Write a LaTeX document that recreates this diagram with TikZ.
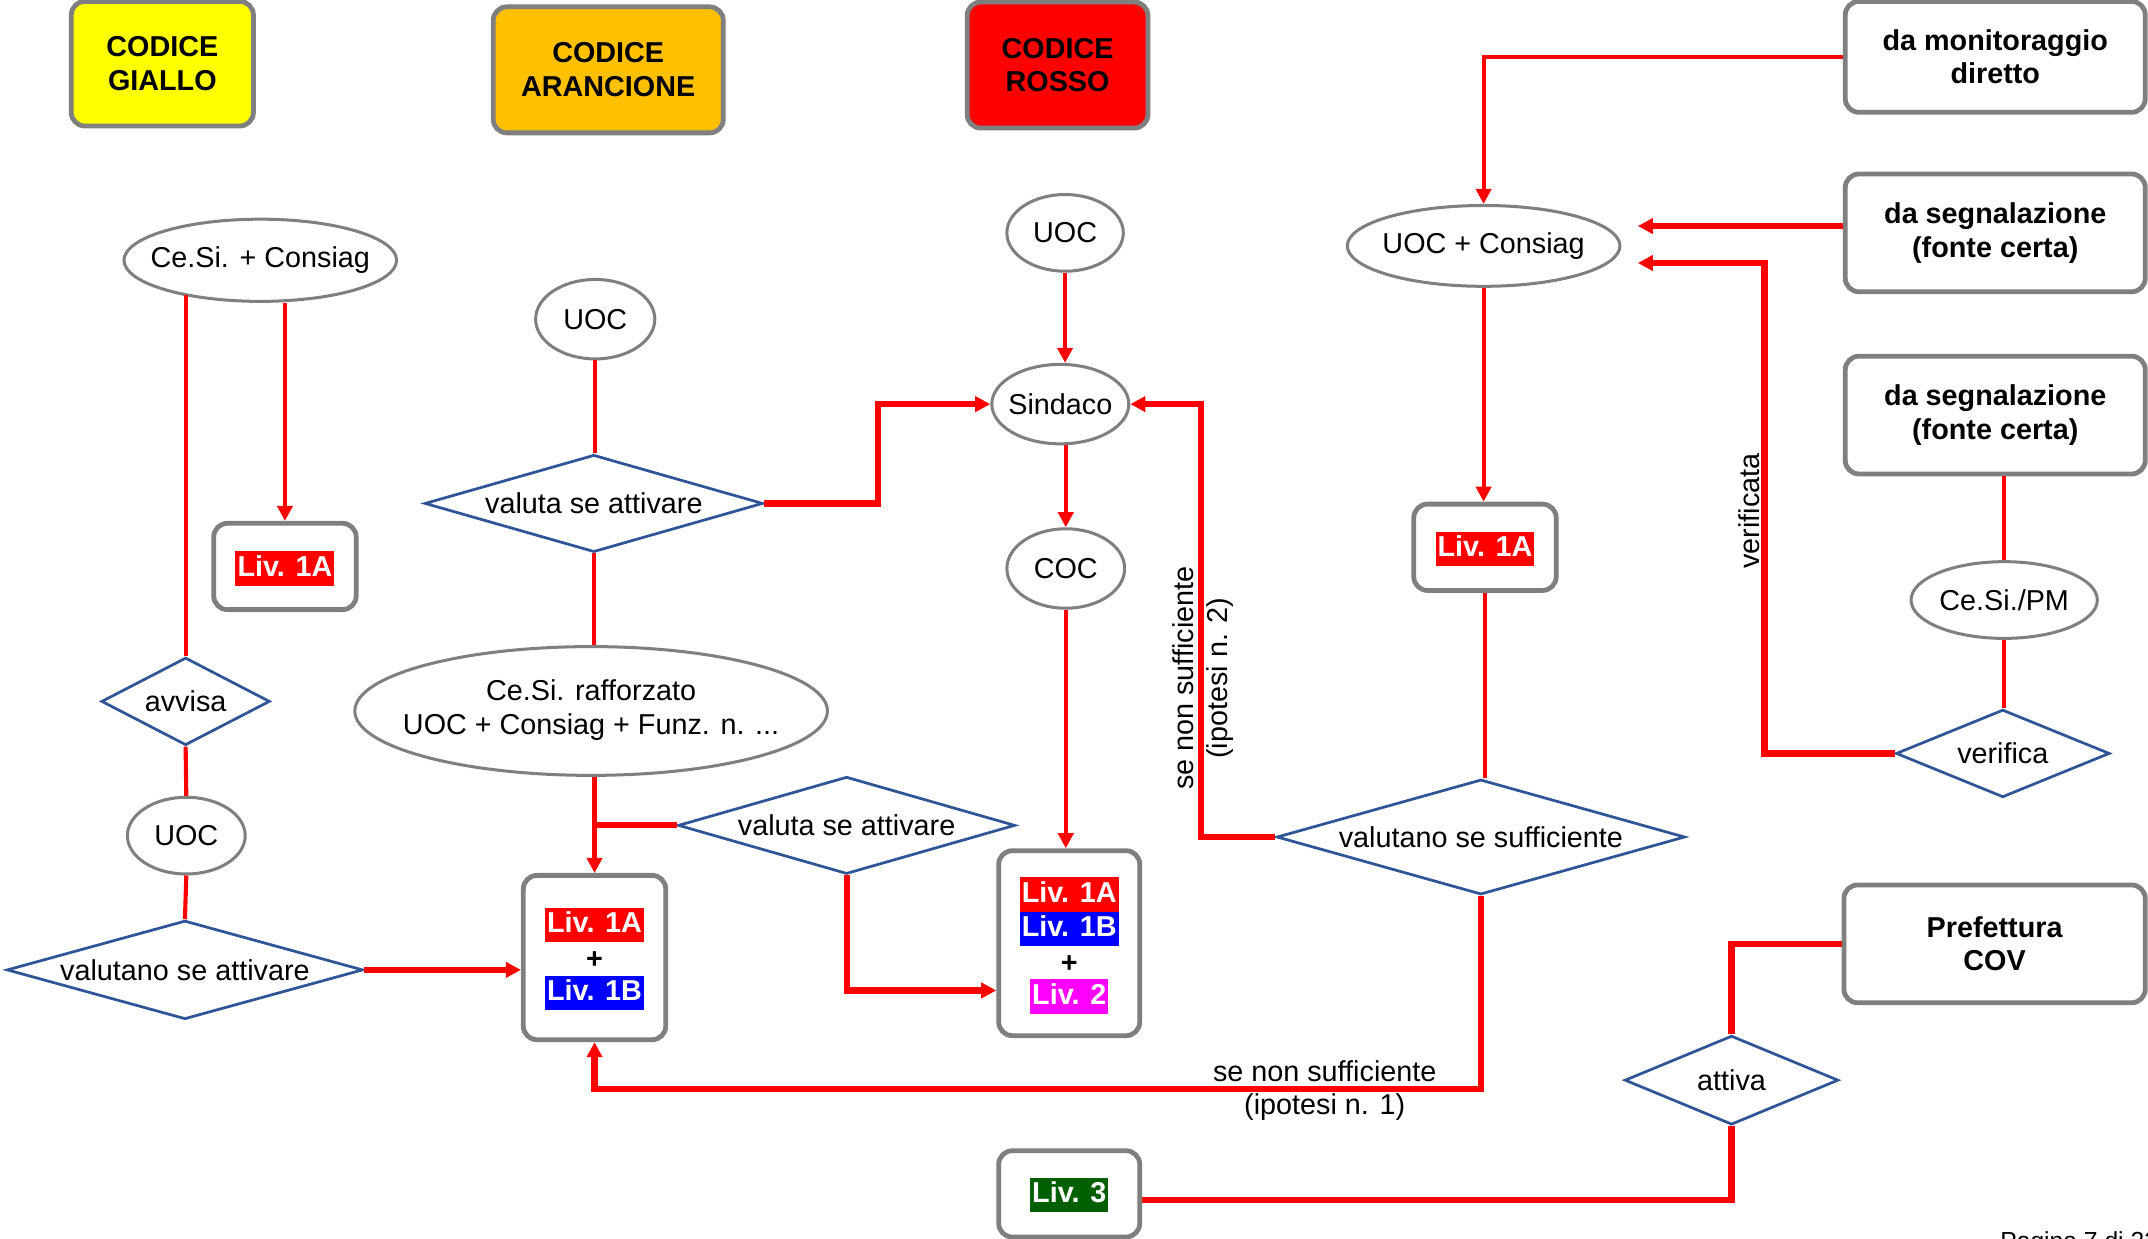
\documentclass[tikz,border=0pt]{standalone}
\usepackage{fontspec}
\setmainfont{Liberation Sans}
\usetikzlibrary{shapes.geometric,arrows.meta,calc}
\definecolor{bordergray}{HTML}{7F7F7F}
\definecolor{diablue}{HTML}{2F5597}
\definecolor{lred}{HTML}{FF0000}
\definecolor{lblue}{HTML}{0000FF}
\definecolor{lmag}{HTML}{FF00FF}
\definecolor{lgreen}{HTML}{006000}
\definecolor{hyellow}{HTML}{FFFF00}
\definecolor{horange}{HTML}{FFC000}
\newcommand{\zw}[1]{\makebox[0pt]{#1}}
\begin{document}
\begin{tikzpicture}[x=1pt,y=-1pt,
  every node/.style={font=\fontsize{21}{24.5}\selectfont, inner sep=0pt},
  hdr/.style={draw=bordergray, line width=3.5pt, rounded corners=10pt, align=center, font=\bfseries\fontsize{21}{24.5}\selectfont},
  box/.style={draw=bordergray, line width=3.5pt, rounded corners=10pt, fill=white, align=center},
  srcbox/.style={box, font=\bfseries\fontsize{21}{24.5}\selectfont},
  ell/.style={ellipse, draw=bordergray, line width=2.2pt, fill=white},
  dia/.style={diamond, draw=diablue, line width=2pt, fill=white},
  liv/.style={font=\bfseries\fontsize{21}{24.5}\selectfont, text=white, inner xsep=1.5pt, inner ysep=2.5pt, text height=15.5pt, text depth=4.5pt},
  plus/.style={font=\bfseries\fontsize{21}{24.5}\selectfont},
  con/.style={draw=lred, line width=3pt},
  arr/.style={con, -{Triangle[length=11pt,width=11pt]}},
  tcon/.style={draw=lred, line width=4.5pt},
  tarr/.style={tcon, -{Triangle[length=11pt,width=11pt]}},
]
\useasboundingbox (0,0) rectangle (1568,904);

% headers
\node[hdr, fill=hyellow, minimum width=133pt, minimum height=91pt] (giallo) at (118.5,46.5) {CODICE\\GIALLO};
\node[hdr, fill=horange, minimum width=168pt, minimum height=92pt] (arancione) at (444,51) {CODICE\\ARANCIONE};
\node[hdr, fill=lred, minimum width=132pt, minimum height=92pt] (rosso) at (772,47.5) {CODICE\\ROSSO};

% source boxes
\node[srcbox, minimum width=219pt, minimum height=81pt] (mon) at (1456.5,41.5) {da monitoraggio\\diretto};
\node[srcbox, minimum width=219pt, minimum height=86pt] (seg1) at (1456.5,170) {da segnalazione\\(fonte certa)};
\node[srcbox, minimum width=219pt, minimum height=86pt] (seg2) at (1456.5,303) {da segnalazione\\(fonte certa)};
\node[srcbox, minimum width=220pt, minimum height=86pt] (pref) at (1456,689) {Prefettura\\COV};

% ellipses
\node[ell, minimum width=199pt, minimum height=60pt] (cesi) at (190,190) {\zw{Ce.Si. + Consiag}};
\node[ell, minimum width=87pt, minimum height=58pt] (uocA) at (434.5,233) {\zw{UOC}};
\node[ell, minimum width=85pt, minimum height=56pt] (uocR) at (777.5,170) {\zw{UOC}};
\node[ell, minimum width=100pt, minimum height=58pt] (sindaco) at (774,295) {\zw{Sindaco}};
\node[ell, minimum width=86pt, minimum height=58pt] (coc) at (778,415) {\zw{COC}};
\node[ell, minimum width=345pt, minimum height=94pt] (cesiR) at (431.5,519) {\zw{\begin{tabular}{@{}c@{}}Ce.Si. rafforzato\\UOC + Consiag + Funz. n. ...\end{tabular}}};
\node[ell, minimum width=86pt, minimum height=56pt] (uocG) at (136,610) {\zw{UOC}};
\node[ell, minimum width=199pt, minimum height=59pt] (uocc) at (1083,179.5) {\zw{UOC + Consiag}};
\node[ell, minimum width=136pt, minimum height=56pt] (cesipm) at (1463,438) {\zw{Ce.Si./PM}};

% diamonds
\node[dia, minimum width=247pt, minimum height=71pt] (valuta1) at (433.5,367.5) {\zw{valuta se attivare}};
\node[dia, minimum width=123pt, minimum height=64pt] (avvisa) at (135.5,512) {\zw{avvisa}};
\node[dia, minimum width=260pt, minimum height=72pt] (vatt) at (135,708) {\zw{valutano se attivare}};
\node[dia, minimum width=246pt, minimum height=71pt] (valuta2) at (618,602.5) {\zw{valuta se attivare}};
\node[dia, minimum width=298pt, minimum height=84pt] (vsuff) at (1081,611) {\zw{valutano se sufficiente}};
\node[dia, minimum width=156pt, minimum height=64pt] (verifica) at (1462,550) {\zw{verifica}};
\node[dia, minimum width=156pt, minimum height=65pt] (attiva) at (1264,788.5) {\zw{attiva}};

% level boxes
\node[box, minimum width=104pt, minimum height=63pt] (lA) at (208,413.5) {};
\node[liv, fill=lred] (lAt) at ($(lA)+(0,1.5)$) {Liv. 1A};
\node[box, minimum width=104pt, minimum height=120pt] (box1) at (434,699) {};
\node[liv, fill=lred] (b1a) at (434,675) {Liv. 1A};
\node[plus] (b1p) at (434,701) {+};
\node[liv, fill=lblue] (b1b) at (434,725) {Liv. 1B};
\node[box, minimum width=103pt, minimum height=135pt] (box2) at (780.5,688.5) {};
\node[liv, fill=lred] (b2a) at (780.5,653) {Liv. 1A};
\node[liv, fill=lblue] (b2b) at (780.5,678) {Liv. 1B};
\node[plus] (b2p) at (780.5,704) {+};
\node[liv, fill=lmag] (b2c) at (780.5,727.5) {Liv. 2};
\node[box, minimum width=104pt, minimum height=63pt] (lAR) at (1084,399.5) {};
\node[liv, fill=lred] (lARt) at ($(lAR)+(0,1)$) {Liv. 1A};
\node[box, minimum width=103pt, minimum height=63pt] (liv3) at (780.5,871.5) {};
\node[liv, fill=lgreen] (liv3t) at ($(liv3)+(0,1)$) {Liv. 3};

% connectors - giallo
\draw[arr] (cesi.south -| lA.north) -- (lA.north);
\draw[con] (cesi.203 -| avvisa.north) -- (avvisa.north);
\draw[con] (avvisa.south) -- (uocG.north);
\draw[con] (uocG.south) -- (vatt.north);
\draw[tarr] (vatt.east) -- (vatt.east -| box1.west);

% connectors - arancione
\draw[con] (uocA.south) -- (uocA.south |- valuta1.north);
\draw[con] (valuta1.south) -- (valuta1.south |- cesiR.north);
\draw[arr] (cesiR.south -| box1.north) -- (box1.north);
\draw[tcon] (valuta2.west) -- (valuta2.west -| box1.north);
\draw[tarr] (valuta2.south) |- ($(box2.west)+(0,34.5)$);
\draw[tarr] (valuta1.east) -- ++(83,0) |- (sindaco.west);

% connectors - rosso
\draw[arr] (uocR.south) -- (uocR.south |- sindaco.north);
\draw[arr] (coc.north |- sindaco.south) -- (coc.north);
\draw[arr] (coc.south) -- (coc.south |- box2.north);
\draw[tarr] (vsuff.west) -- ++(-54,0) |- (sindaco.east);
\node[rotate=90, align=center] (lbl2) at (878,495) {se non sufficiente\\(ipotesi n. 2)};
\draw[tarr] (vsuff.south) -- ++(0,141) -| (box1.south);
\node[align=center] (lbl1) at (967,796) {se non sufficiente\\(ipotesi n. 1)};

% connectors - right
\draw[arr] (mon.west) -| (uocc.north);
\draw[tarr] ($(seg1.west)+(0,-5)$) -- ($(uocc.east)+(12,-14.5)$);
\draw[tarr] (verifica.west) -- ++(-95,0) |- ($(uocc.east)+(12,12.5)$);
\node[rotate=90] (lblv) at (1277,373) {verificata};
\draw[con] (cesipm.north |- seg2.south) -- (cesipm.north);
\draw[con] (cesipm.south) -- (cesipm.south |- verifica.north);
\draw[arr] (uocc.south) -- (uocc.south |- lAR.north);
\draw[con] (lAR.south) -- (lAR.south |- vsuff.north);
\draw[tcon] (pref.west) -| (attiva.north);
\draw[tcon] (attiva.south) |- ($(liv3.east)+(0,4.5)$);

\node[anchor=base west, font=\fontsize{18}{20}\selectfont] (pg) at (1460,912) {Pagina 7 di 22};
\end{tikzpicture}
\end{document}
